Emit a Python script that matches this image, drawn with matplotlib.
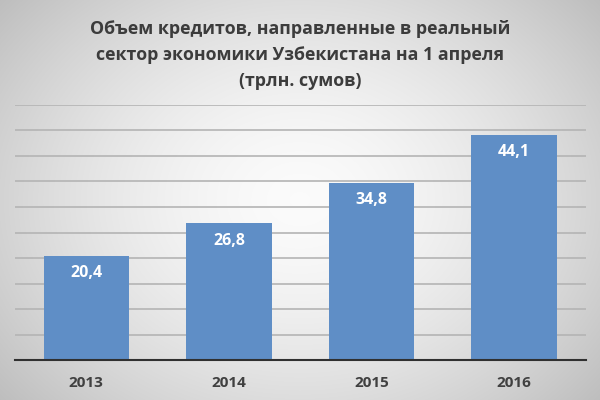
import matplotlib
matplotlib.use("Agg")
import matplotlib.pyplot as plt
import numpy as np

# данные
years = ["2013", "2014", "2015", "2016"]
credits = [20.4, 26.8, 34.8, 44.1]
labels = ["20,4", "26,8", "34,8", "44,1"]
title = "Объем кредитов, направленные в реальный\nсектор экономики Узбекистана на 1 апреля\n(трлн. сумов)"

plt.rcParams['font.family'] = ['Open Sans', 'DejaVu Sans']

fig = plt.figure(figsize=(6, 4), dpi=100)

# фон с радиальным градиентом
bg = fig.add_axes([0, 0, 1, 1], zorder=-10)
gx, gy = np.meshgrid(np.linspace(-1, 1, 600), np.linspace(-1, 1, 400))
r = np.sqrt((gx * 0.95) ** 2 + (gy * 0.8) ** 2)
shade = 0.985 - 0.17 * np.clip(r, 0, 1.3) ** 1.6
bg.imshow(np.dstack([shade, shade, shade]), aspect='auto', extent=[0, 1, 0, 1])
bg.axis('off')

ax = fig.add_axes([0.025, 0.1, 0.951, 0.6375])
ax.patch.set_alpha(0)
x = np.arange(len(years))
bars = ax.bar(x, credits, width=0.6, color='#5f8ec6', zorder=3)
ax.set_xlim(-0.5, len(years) - 0.5)
ax.set_ylim(0, 50)
ax.set_yticks(np.arange(0, 51, 5))
ax.yaxis.grid(True, color='#b4b4b4', linewidth=1.2, zorder=0)
ax.tick_params(axis='y', left=False, labelleft=False)
ax.tick_params(axis='x', bottom=False, pad=8)
ax.set_xticks(x)
ax.set_xticklabels(years, fontsize=11, fontweight='bold', color='#404040')
for s in ['top', 'right', 'left']:
    ax.spines[s].set_visible(False)
ax.spines['bottom'].set_color('#303030')
ax.spines['bottom'].set_linewidth(1.5)
ax.spines['bottom'].set_zorder(4)

for b, t in zip(bars, labels):
    ax.annotate(t, (b.get_x() + b.get_width() / 2, b.get_height()),
                xytext=(0, -12.5), textcoords='offset points', ha='center', va='center',
                color='white', fontsize=11.5, fontweight='bold', zorder=5)

fig.text(0.5, 0.863, title, ha='center', va='center', fontsize=12.8,
         fontweight='bold', color='#3c3c3c', linespacing=1.55)

fig.savefig("out.png", dpi=100)
